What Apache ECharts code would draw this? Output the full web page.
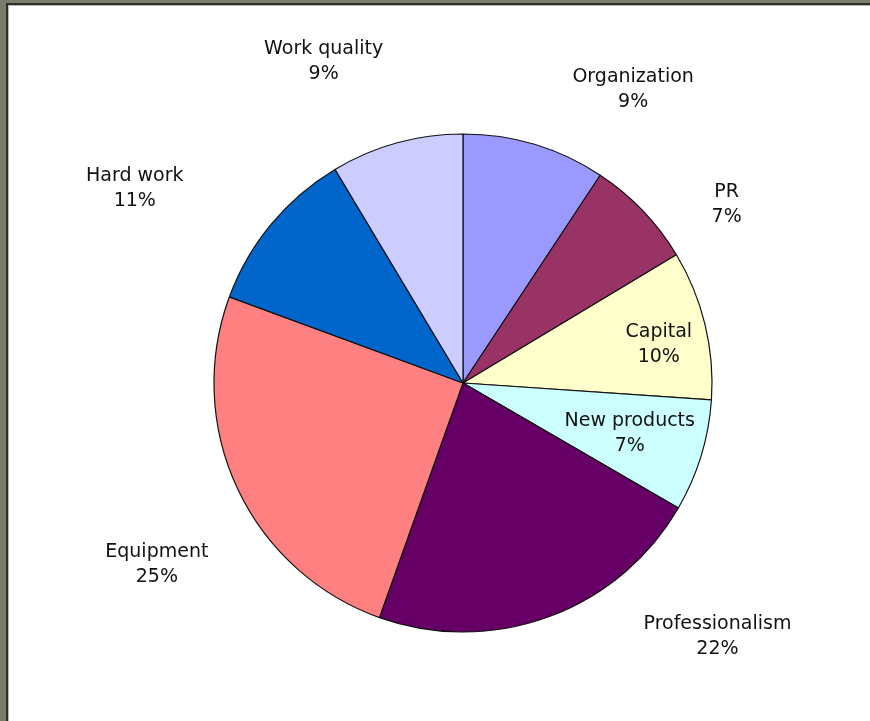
<!DOCTYPE html>
<html>
<head>
<meta charset="utf-8">
<script src="https://cdn.jsdelivr.net/npm/echarts@6/dist/echarts.min.js"></script>
<style>
  html, body { margin: 0; padding: 0; width: 870px; height: 721px; overflow: hidden; background: #7a7d6b; }
  #frame { position: absolute; left: 6px; top: 3px; right: 0; bottom: 0; border-left: 2px solid #2e2e2e; border-top: 2px solid #2e2e2e; }
  #chart { position: absolute; left: 0; top: 0; right: 0; bottom: 0; border-left: 1px solid #b8b8b8; border-top: 1px solid #b8b8b8; background: #ffffff; }
</style>
</head>
<body>
<div id="frame"><div id="chart"></div></div>
<script>
// ---- data ----
const categories = ['Organization', 'PR', 'Capital', 'New products', 'Professionalism', 'Equipment', 'Hard work', 'Work quality'];
const values = [9.3, 7.1, 9.7, 7.3, 22.1, 25.2, 10.8, 8.6];

// ---- styles / layout ----
const sliceColors = ['#9999ff', '#993366', '#ffffcc', '#ccffff', '#660066', '#ff8080', '#0066cc', '#ccccff'];
const insideLabels = ['Capital', 'New products'];
const labelNudge = {
  'Organization': [77, 17],
  'PR': [30, 46],
  'Capital': [7, 7],
  'New products': [-19, -6],
  'Professionalism': [143, -50],
  'Equipment': [-13, 44],
  'Hard work': [-79, 12],
  'Work quality': [-53, -9]
};
const CX = 454, CY = 377, R = 249;

const el = document.getElementById('chart');
const chart = echarts.init(el, null, { renderer: 'canvas' });

const total = values.reduce((a, b) => a + b, 0);
function midAngle(i) {
  let cum = 0;
  for (let j = 0; j < i; j++) cum += values[j];
  return (cum + values[i] / 2) / total * 2 * Math.PI;
}

chart.setOption({
  animation: false,
  backgroundColor: '#ffffff',
  series: [{
    type: 'pie',
    center: [CX, CY],
    radius: R,
    startAngle: 90,
    clockwise: true,
    percentPrecision: 0,
    avoidLabelOverlap: false,
    silent: true,
    itemStyle: { borderColor: '#111111', borderWidth: 1.2 },
    label: {
      show: true,
      position: 'outside',
      formatter: '{b}\n{d}%',
      color: '#111111',
      fontFamily: 'DejaVu Sans',
      fontSize: 19,
      lineHeight: 25,
      align: 'center'
    },
    labelLine: { show: false },
    labelLayout: function (p) {
      const i = p.dataIndex;
      const name = categories[i];
      const a = midAngle(i);
      const k = insideLabels.indexOf(name) >= 0 ? 0.78 : 1.3;
      const n = labelNudge[name] || [0, 0];
      return {
        x: CX + k * R * Math.sin(a) + n[0],
        y: CY - k * R * Math.cos(a) + n[1],
        align: 'center',
        verticalAlign: 'middle'
      };
    },
    emphasis: { disabled: true },
    data: categories.map((c, i) => ({ name: c, value: values[i], itemStyle: { color: sliceColors[i] } }))
  }]
});
</script>
</body>
</html>
